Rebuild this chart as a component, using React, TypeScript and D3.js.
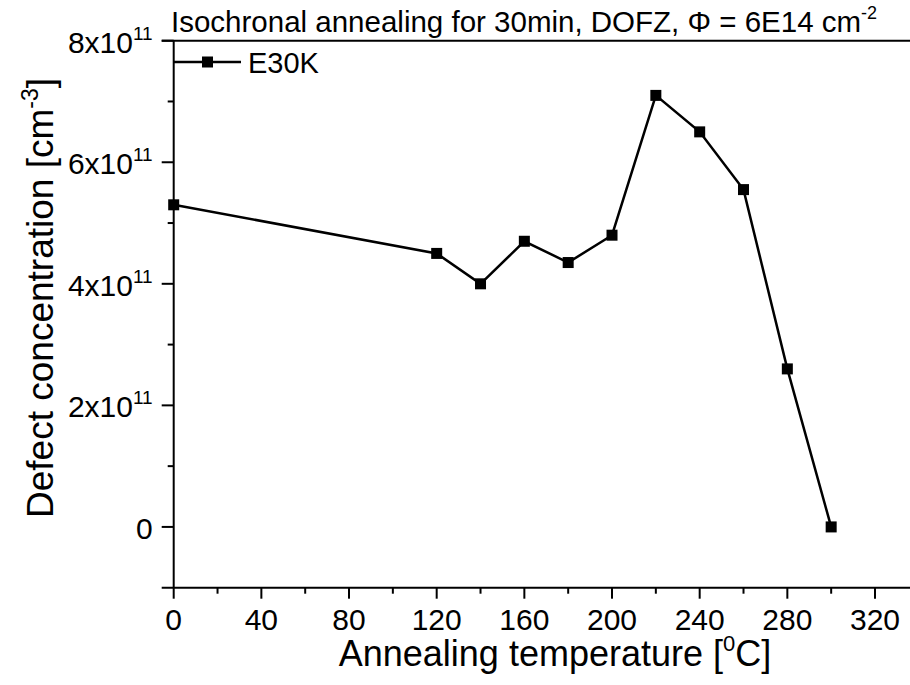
import React from "react";
import * as d3 from "d3";

const temps = [0, 120, 140, 160, 180, 200, 220, 240, 260, 280, 300];
const conc = [5.3e11, 4.5e11, 4.0e11, 4.7e11, 4.35e11, 4.8e11, 7.1e11, 6.5e11, 5.55e11, 2.6e11, 0];
const xTicks = [0, 40, 80, 120, 160, 200, 240, 280, 320];
const xMinor = [20, 60, 100, 140, 180, 220, 260, 300, 340];
const yTicks = [0, 2e11, 4e11, 6e11, 8e11];
const yMinor = [1e11, 3e11, 5e11, 7e11];
const seriesName = "E30K";

const W = 910;
const H = 685;
const FONT = "'Liberation Sans', Arial, sans-serif";

export default function App() {
  const x = d3.scaleLinear().domain([0, 320]).range([173.7, 875]);
  const y = d3.scaleLinear().domain([-1e11, 8e11]).range([587.7, 40.7]);
  const line = d3
    .line<number>()
    .x((_, i) => x(temps[i]))
    .y((d) => y(d));
  const x0 = x(0);
  const yb = y(-1e11);
  const yt = y(8e11);
  const sq = 11;
  const legY = 62;
  return (
    <svg
      width={W}
      height={H}
      style={{ position: "absolute", left: 0, top: 0, background: "#fff" }}
      fontFamily={FONT}
    >
      <rect x={0} y={0} width={W} height={H} fill="#fff" />
      {/* title */}
      <text x={171} y={31.5} fontSize={29.5} fill="#000">
        Isochronal annealing for 30min, DOFZ, Φ = 6E14 cm
        <tspan fontSize={18} dy={-13}>-2</tspan>
      </text>
      {/* frame lines */}
      <g stroke="#000" strokeWidth={2} fill="none">
        <line x1={x0 - 12} x2={W} y1={yt} y2={yt} />
        <line x1={x0 - 12} x2={W} y1={yb} y2={yb} />
        <line x1={x0} x2={x0} y1={yt} y2={yb} />
        {xTicks.map((t) => (
          <line key={"xt" + t} x1={x(t)} x2={x(t)} y1={yb} y2={yb + 11} />
        ))}
        {xMinor.map((t) => (
          <line key={"xm" + t} x1={x(t)} x2={x(t)} y1={yb} y2={yb + 6} />
        ))}
        {yTicks.map((t) => (
          <line key={"yt" + t} x1={x0 - 12} x2={x0} y1={y(t)} y2={y(t)} />
        ))}
        {yMinor.map((t) => (
          <line key={"ym" + t} x1={x0 - 6} x2={x0} y1={y(t)} y2={y(t)} />
        ))}
      </g>
      {/* x tick labels */}
      {xTicks.map((t) => (
        <text key={"xl" + t} x={x(t)} y={yb + 42} fontSize={30} textAnchor="middle" fill="#000">
          {t}
        </text>
      ))}
      {/* y tick labels */}
      {yTicks.map((t) =>
        t === 0 ? (
          <text key={"yl" + t} x={x0 - 21} y={y(t) + 12} fontSize={30} textAnchor="end" fill="#000">
            0
          </text>
        ) : (
          <text key={"yl" + t} x={x0 - 21} y={y(t) + 12} fontSize={30} textAnchor="end" fill="#000">
            {`${t / 1e11}x10`}
            <tspan fontSize={19} dy={-13}>11</tspan>
          </text>
        )
      )}
      {/* axis titles */}
      <text x={555} y={666} fontSize={36} textAnchor="middle" fill="#000">
        Annealing temperature [<tspan fontSize={22} dy={-15}>0</tspan>
        <tspan dy={15}>C]</tspan>
      </text>
      <text
        transform={`translate(53, 298) rotate(-90)`}
        fontSize={37}
        textAnchor="middle"
        fill="#000"
      >
        Defect concentration [cm<tspan fontSize={23} dy={-15}>-3</tspan>
        <tspan dy={15}>]</tspan>
      </text>
      {/* series */}
      <path d={line(conc) || ""} fill="none" stroke="#000" strokeWidth={2.5} />
      {conc.map((v, i) => (
        <rect
          key={"p" + i}
          x={x(temps[i]) - sq / 2}
          y={y(v) - sq / 2}
          width={sq}
          height={sq}
          fill="#000"
        />
      ))}
      {/* legend */}
      <line x1={x0} x2={241} y1={legY} y2={legY} stroke="#000" strokeWidth={2.5} />
      <rect x={207.5 - sq / 2} y={legY - sq / 2} width={sq} height={sq} fill="#000" />
      <text x={248} y={legY + 10.5} fontSize={29} fill="#000">
        {seriesName}
      </text>
    </svg>
  );
}
